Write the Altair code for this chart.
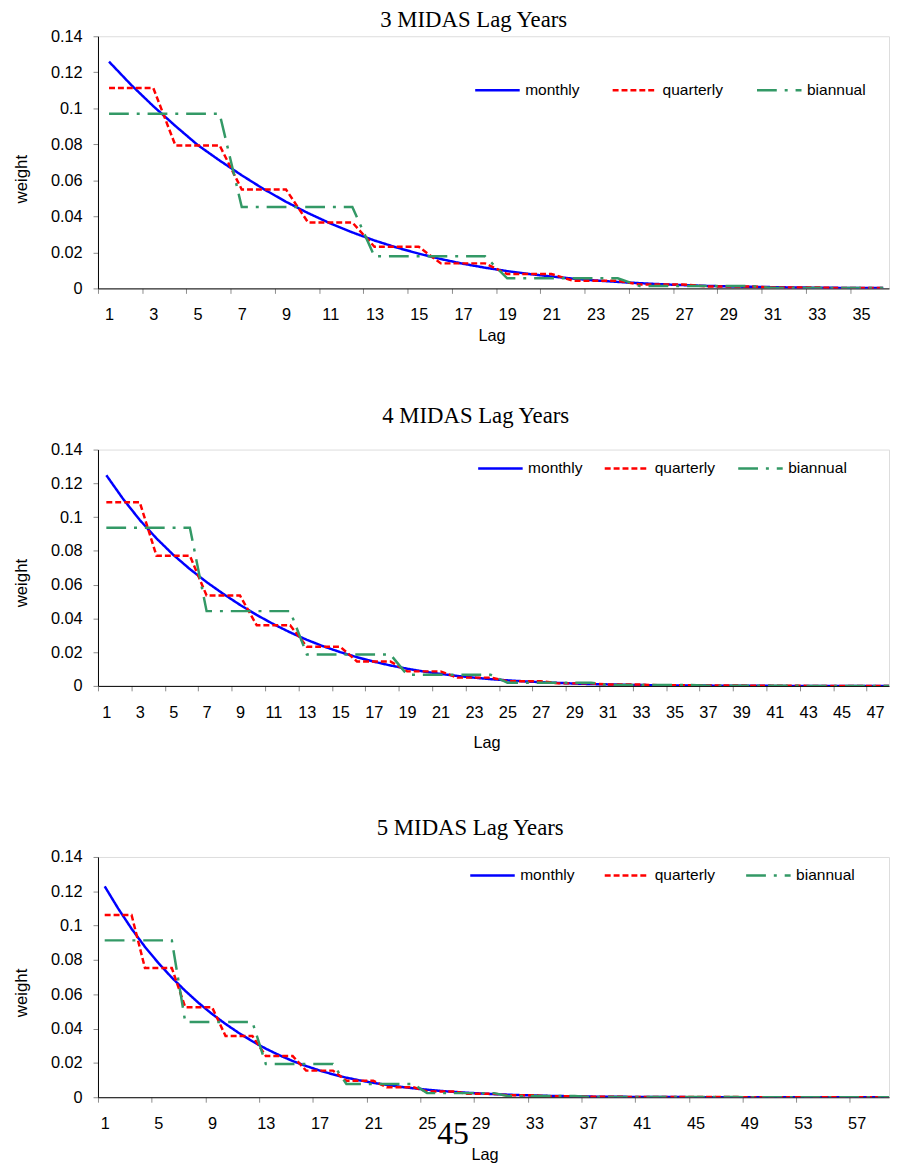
import altair as alt
import pandas as pd

# ---------------- data ----------------
series_names = ["monthly", "quarterly", "biannual"]
series_colors = ["#0000FF", "#FF0000", "#339966"]
series_dashes = [[1, 0], [6, 3], [20, 8, 3, 8]]

titles = ["3 MIDAS Lag Years", "4 MIDAS Lag Years", "5 MIDAS Lag Years"]

lags_3 = list(range(1, 37))
monthly_3 = [0.1259, 0.1130, 0.1012, 0.0902, 0.0797, 0.0710, 0.0628, 0.0551, 0.0481, 0.0418, 0.0361, 0.0311,
             0.0266, 0.0227, 0.0193, 0.0163, 0.0137, 0.0115, 0.0096, 0.0080, 0.0066, 0.0054, 0.0044, 0.0036,
             0.0029, 0.0023, 0.0018, 0.0014, 0.0011, 0.0009, 0.0007, 0.0005, 0.0004, 0.0003, 0.0002, 0.0002]
quarterly_3 = [0.1113, 0.0794, 0.0549, 0.0366, 0.0231, 0.0139, 0.0080, 0.0042, 0.0022, 0.0011, 0.0005, 0.0002]
biannual_3 = [0.0970, 0.0452, 0.0178, 0.0056, 0.0013, 0.0003]

lags_4 = list(range(1, 49))
monthly_4 = [0.1248, 0.1108, 0.0983, 0.0874, 0.0777, 0.0692, 0.0615, 0.0545, 0.0480, 0.0420, 0.0366, 0.0317,
             0.0273, 0.0234, 0.0200, 0.0170, 0.0144, 0.0121, 0.0102, 0.0085, 0.0071, 0.0059, 0.0049, 0.0040,
             0.0033, 0.0027, 0.0022, 0.0018, 0.0014, 0.0011, 0.0009, 0.0007, 0.0005, 0.0004, 0.0003, 0.0002,
             0.0002, 0.0001, 0.0001, 0.0001, 0.0000, 0.0000, 0.0000, 0.0000, 0.0000, 0.0000, 0.0000, 0.0000]
quarterly_4 = [0.1088, 0.0771, 0.0535, 0.0359, 0.0232, 0.0145, 0.0086, 0.0049,
               0.0028, 0.0015, 0.0008, 0.0004, 0.0002, 0.0001, 0.0000, 0.0000]
biannual_4 = [0.0937, 0.0443, 0.0186, 0.0066, 0.0019, 0.0005, 0.0001, 0.0000]

lags_5 = list(range(1, 61))
monthly_5 = [0.1229, 0.1100, 0.0982, 0.0876, 0.0782, 0.0697, 0.0620, 0.0549, 0.0485, 0.0427, 0.0374, 0.0326,
             0.0283, 0.0245, 0.0211, 0.0182, 0.0156, 0.0133, 0.0114, 0.0098, 0.0084, 0.0072, 0.0061, 0.0052,
             0.0044, 0.0037, 0.0031, 0.0026, 0.0022, 0.0018, 0.0015, 0.0012, 0.0010, 0.0008, 0.0007, 0.0005,
             0.0004, 0.0003, 0.0003, 0.0002, 0.0002, 0.0001, 0.0001, 0.0001, 0.0000, 0.0000, 0.0000, 0.0000,
             0.0000, 0.0000, 0.0000, 0.0000, 0.0000, 0.0000, 0.0000, 0.0000, 0.0000, 0.0000, 0.0000, 0.0000]
quarterly_5 = [0.1062, 0.0753, 0.0524, 0.0357, 0.0240, 0.0155, 0.0096, 0.0058, 0.0034, 0.0020,
               0.0011, 0.0006, 0.0003, 0.0002, 0.0001, 0.0001, 0.0000, 0.0000, 0.0000, 0.0000]
biannual_5 = [0.0914, 0.0438, 0.0194, 0.0077, 0.0024, 0.0007, 0.0002, 0.0001, 0.0000, 0.0000]

y_ticks = [0, 0.02, 0.04, 0.06, 0.08, 0.1, 0.12, 0.14]
page_number = ["45"]

SANS = "Liberation Sans"
SERIF = "Liberation Serif"
PLOT_W = 800


def steps(values, months):
    out = []
    for v in values:
        out.extend([v] * months)
    return out


def frame(lags, monthly, quarterly, biannual):
    rows = []
    for name, vals in zip(series_names, [monthly, steps(quarterly, 3), steps(biannual, 6)]):
        for lag, v in zip(lags, vals):
            rows.append({"lag": lag, "weight": v, "series": name})
    return pd.DataFrame(rows)


def panel(title, df, n_lags, cat_w, label_step, plot_h, title_dx, title_offset,
          legend_x, legend_y, legend_pad, y_title_y, x_label_pad, x_title_pad, x_title_x):
    x_max = 0.5 + PLOT_W / cat_w
    tick_vals = [b + 0.5 for b in range(0, n_lags, label_step) if b + 0.5 <= x_max]
    leg = alt.Legend(
        orient="none", legendX=legend_x, legendY=legend_y, direction="horizontal",
        symbolType="stroke", symbolSize=2025, symbolStrokeWidth=2.5,
        labelFont=SANS, labelFontSize=15.7, labelColor="black", labelOffset=4,
        columnPadding=legend_pad, padding=0, symbolOffset=0,
    )
    color = alt.Color("series:N", title=None,
                      scale=alt.Scale(domain=series_names, range=series_colors), legend=leg)
    dash = alt.StrokeDash("series:N", title=None,
                          scale=alt.Scale(domain=series_names, range=series_dashes), legend=leg)
    x = alt.X("lag:Q", scale=alt.Scale(domain=[0.5, x_max], nice=False, zero=False),
              axis=alt.Axis(values=tick_vals, labelExpr="format(datum.value + 0.5, 'd')",
                            labelOffset=cat_w / 2, labelFlush=False, labelOverlap=False,
                            labelFont=SANS, labelFontSize=16.5, labelColor="black",
                            labelPadding=x_label_pad, tickSize=5, tickColor="#8c8c8c",
                            domainColor="black", grid=False, title="Lag", titleFont=SANS,
                            titleFontSize=16.5, titleFontWeight="normal", titleColor="black",
                            titlePadding=x_title_pad, titleX=x_title_x))
    y = alt.Y("weight:Q", scale=alt.Scale(domain=[0, 0.14], nice=False),
              axis=alt.Axis(values=y_ticks, format=".2~f", labelFont=SANS, labelFontSize=16.5,
                            labelColor="black", labelPadding=11, labelFlush=False, tickSize=5,
                            tickColor="#8c8c8c", domainColor="black", grid=False, title="weight",
                            titleFont=SANS, titleFontSize=17, titleFontWeight="normal",
                            titleColor="black", titlePadding=20, titleY=y_title_y))
    base = alt.Chart(df)
    layers = []
    for name in series_names:
        layers.append(
            base.transform_filter(alt.datum.series == name)
            .mark_line(strokeWidth=2.5, strokeCap="butt", clip=True)
            .encode(x=x, y=y, color=color, strokeDash=dash)
        )
    ch = alt.layer(*layers).properties(
        width=PLOT_W, height=plot_h,
        title=alt.TitleParams(title, font=SERIF, fontSize=23, fontWeight="normal", color="black",
                              anchor="middle", frame="group", dx=title_dx, offset=title_offset),
    )
    return ch


c1 = panel(titles[0], frame(lags_3, monthly_3, quarterly_3, biannual_3), 36, 22.37, 2, 255,
           -20, -4, 380, 30.5, 28, 144, 13, 5.5, 398)
c2 = panel(titles[1], frame(lags_4, monthly_4, quarterly_4, biannual_4), 48, 16.9, 2, 239,
           -18, 14, 383, -5, 17, 134.5, 14, 13.5, 393)
c3_lines = panel(titles[2], frame(lags_5, monthly_5, quarterly_5, biannual_5), 60, 13.58, 4, 243,
                 -23.5, 9, 375, -5.5, 25, 137, 14, 14.5, 391)

page = alt.Chart(pd.DataFrame({"t": page_number})).mark_text(
    font=SERIF, fontSize=32, align="center", baseline="alphabetic", color="black"
).encode(text="t:N", x=alt.value(359), y=alt.value(290))

c3 = alt.layer(c3_lines, page)

top = alt.vconcat(c1, c2, spacing=60).resolve_scale(
    color="independent", strokeDash="independent", x="independent"
).resolve_legend(color="independent", strokeDash="independent")

chart = alt.vconcat(top, c3, spacing=66).resolve_scale(
    color="independent", strokeDash="independent", x="independent"
).resolve_legend(color="independent", strokeDash="independent").properties(
    padding={"left": 4, "top": -6, "right": 0, "bottom": 0}
).configure_view(strokeWidth=0).configure(background="white")

chart.save("out.html", embed_options={"renderer": "svg", "actions": False})
